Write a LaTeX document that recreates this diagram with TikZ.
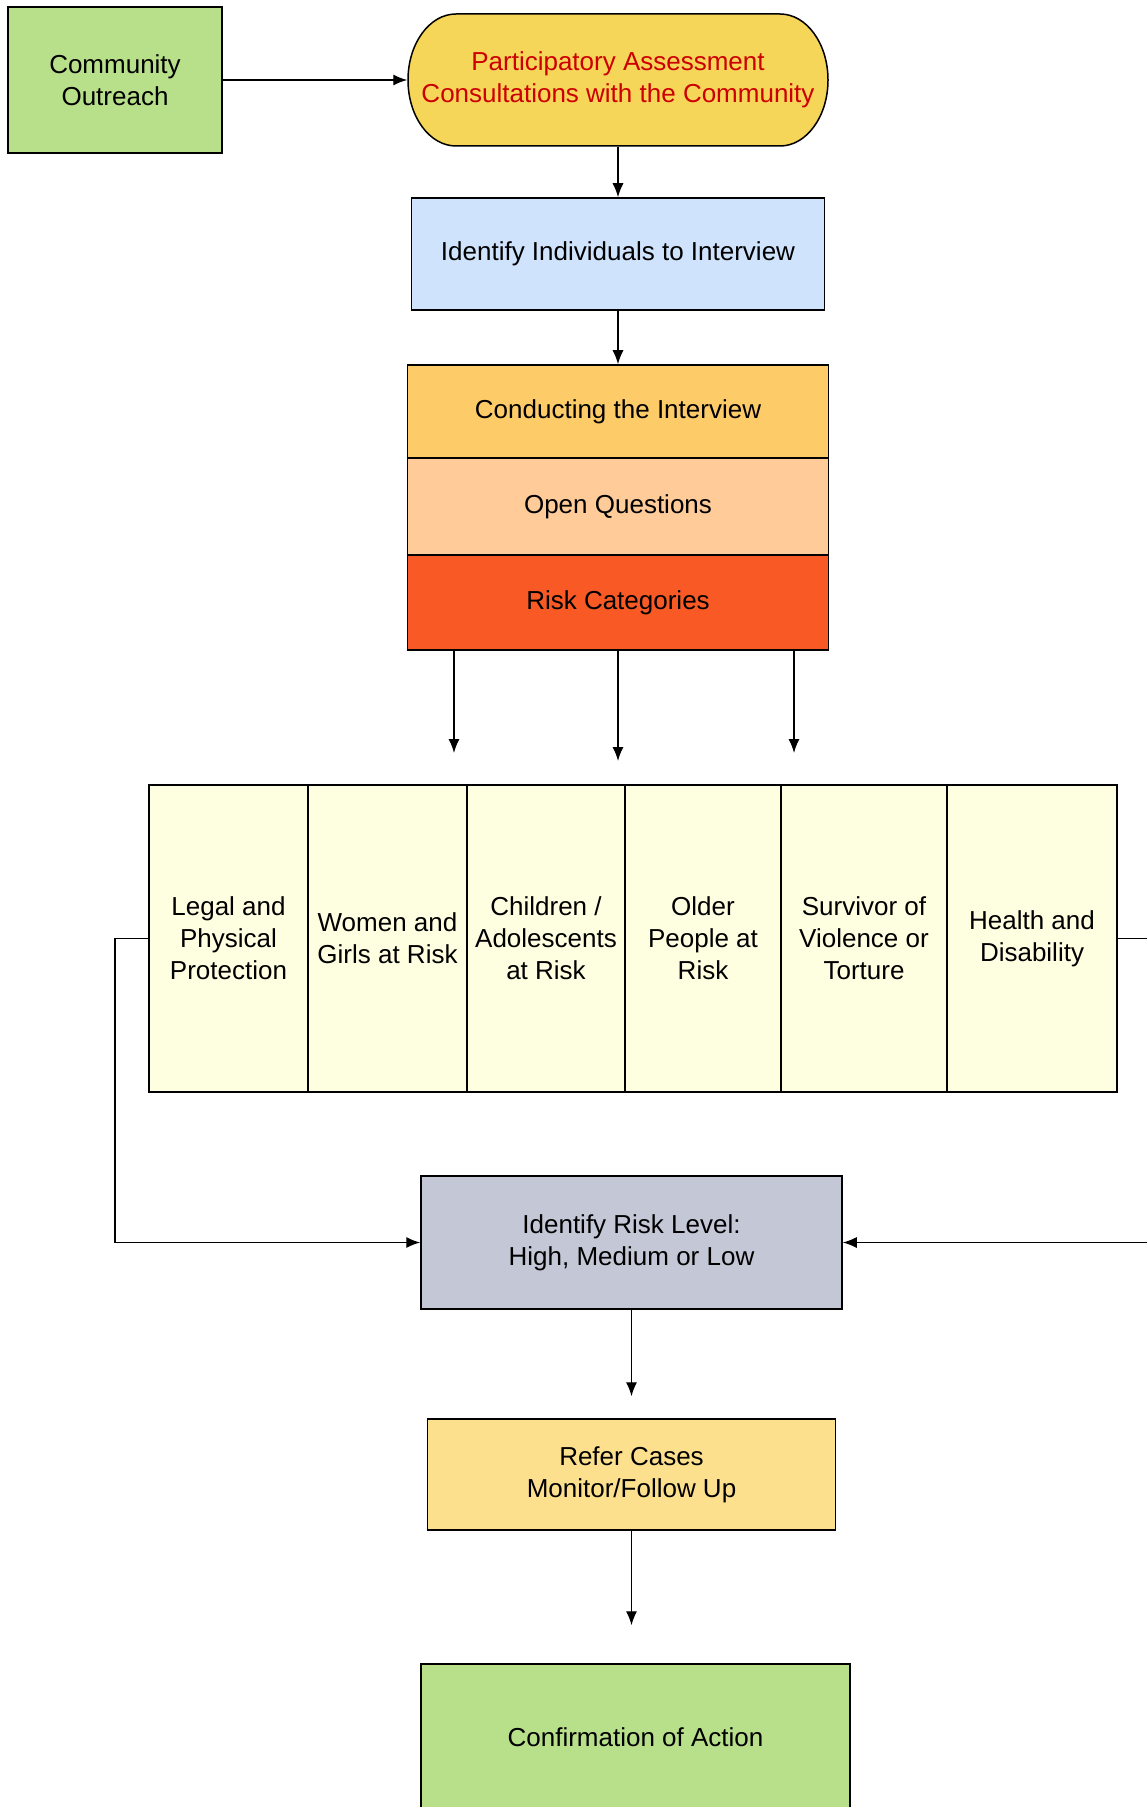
\documentclass[tikz,border=0pt]{standalone}
\usepackage{fontspec}
\setmainfont{Liberation Sans}
\usetikzlibrary{arrows.meta}

\tikzset{
  box/.style={draw, line width=0.75pt, inner sep=0pt, align=center,
    font=\fontsize{13pt}{16pt}\selectfont},
  cell/.style={box, line width=1.1pt, minimum height=153.5pt,
    fill={rgb,255:red,254;green,254;blue,224}},
  arr/.style={-{Latex[length=7pt,width=5.5pt]}, line width=0.65pt}
}

\begin{document}
\begin{tikzpicture}[x=0.5pt,y=0.5pt,yscale=-1,xscale=1]
\useasboundingbox (0,0) rectangle (1146,1807);

%Shape: Rectangle
\node[box, minimum width=107pt, minimum height=73pt, fill={rgb,255:red,184;green,223;blue,137}] (outreach) at (115,80) {Community\\Outreach};

%Shape: Pill
\draw[line width=0.75pt, fill={rgb,255:red,245;green,214;blue,89}] (456,14) -- (780,14) arc[start angle=-90,end angle=90,x radius=48,y radius=66] -- (456,146) arc[start angle=90,end angle=270,x radius=48,y radius=66] -- cycle;
\node[box, draw=none, minimum width=210pt, minimum height=66pt, text={rgb,255:red,204;green,0;blue,0}] (assess) at (618,80) {Participatory Assessment\\Consultations with the Community};

%Shape: Rectangle
\node[box, minimum width=206.5pt, minimum height=56pt, fill={rgb,255:red,207;green,227;blue,253}] (identify) at (618,254) {Identify Individuals to Interview};

%Shape: Stack
\node[box, minimum width=210.5pt, minimum height=46.5pt, fill={rgb,255:red,254;green,203;blue,105}] (conduct) at (618,411.5) {Conducting the Interview};
\node[box, minimum width=210.5pt, minimum height=48.5pt, fill={rgb,255:red,254;green,203;blue,153}] (openq) at (618,506.5) {Open Questions};
\node[box, minimum width=210.5pt, minimum height=47.5pt, fill={rgb,255:red,249;green,90;blue,37}] (riskcat) at (618,602.5) {Risk Categories};

%Shape: Categories
\node[cell, minimum width=79.5pt] (legal) at (228.5,938.5) {Legal and\\Physical\\Protection};
\node[cell, minimum width=79.5pt] (women) at (387.5,938.5) {Women and\\Girls at Risk};
\node[cell, minimum width=79pt] (children) at (546,938.5) {Children /\\Adolescents\\at Risk};
\node[cell, minimum width=78pt] (older) at (703,938.5) {Older\\People at\\Risk};
\node[cell, minimum width=83pt] (survivor) at (864,938.5) {Survivor of\\Violence or\\Torture};
\node[cell, minimum width=85pt] (health) at (1032,938.5) {Health and\\Disability};

%Shape: Rectangle
\node[box, minimum width=210.5pt, minimum height=66.5pt, fill={rgb,255:red,196;green,200;blue,214}] (risklevel) at (631.5,1242.5) {Identify Risk Level:\\High, Medium or Low};
\node[box, minimum width=204pt, minimum height=55.5pt, fill={rgb,255:red,253;green,224;blue,142}] (refer) at (631.5,1474.5) {Refer Cases\\Monitor/Follow Up};
\node[box, minimum width=214.5pt, minimum height=73pt, fill={rgb,255:red,184;green,223;blue,137}] (confirm) at (635.5,1737) {Confirmation of Action};

% Arrows
\coordinate (catin1) at (454,753);
\coordinate (catin2) at (618,761);
\coordinate (catin3) at (794,753);
\draw[arr] (outreach.east) -- (outreach.east -| assess.west);
\draw[arr] (assess.south) -- (assess.south |- identify.north);
\draw[arr] (identify.south) -- (identify.south |- conduct.north);
\draw[arr] (riskcat.south -| catin1) -- (catin1);
\draw[arr] (riskcat.south -| catin2) -- (catin2);
\draw[arr] (riskcat.south -| catin3) -- (catin3);
\draw[arr] (legal.west) -- ++(-33,0) |- (risklevel.west);
\draw[arr] (health.east) -- ++(70,0) |- (risklevel.east);
\draw[arr, shorten >=11pt] (risklevel.south) -- (risklevel.south |- refer.north);
\draw[arr, shorten >=19pt] (refer.south) -- (refer.south |- confirm.north);

\end{tikzpicture}
\end{document}
